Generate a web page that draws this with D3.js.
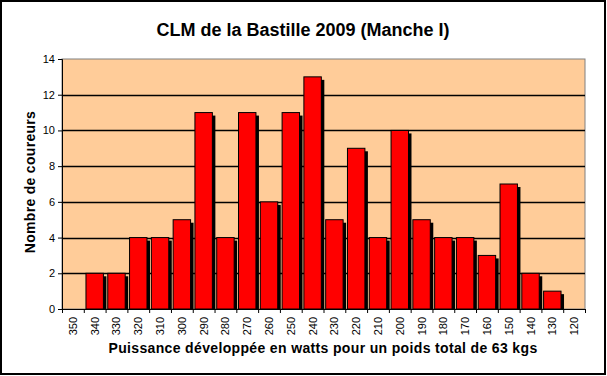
<!DOCTYPE html>
<html>
<head>
<meta charset="utf-8">
<script src="https://cdn.jsdelivr.net/npm/d3@7"></script>
<style>
body { margin:0; background:#fff; }
text { font-family: Arial, "Liberation Sans", sans-serif; }
</style>
</head>
<body>
<script>
var categories = ["350","340","330","320","310","300","290","280","270","260","250","240","230","220","210","200","190","180","170","160","150","140","130","120"];
var counts = [0,2,2,4,4,5,11,4,11,6,11,13,5,9,4,10,5,4,4,3,7,2,1,0];
var yTicks = [0,2,4,6,8,10,12,14];

var width = 607, height = 376;
var margin = {left:62, right:22, top:59, bottom:67};
var w = width - margin.left - margin.right;
var h = height - margin.top - margin.bottom;

var svg = d3.select("body").append("svg").attr("width",width).attr("height",height);

// outer frame
svg.append("rect").attr("x",1).attr("y",1).attr("width",width-3).attr("height",height-3)
   .attr("fill","#fff").attr("stroke","#000").attr("stroke-width",2);

svg.append("text").attr("x",303).attr("y",36).attr("text-anchor","middle")
   .attr("font-size","18px").attr("font-weight","bold").text("CLM de la Bastille 2009 (Manche I)");

var x = d3.scaleBand().domain(categories).range([0,w]).paddingInner(0.2).paddingOuter(0.1);
var xi = d3.scaleLinear().domain([0,categories.length]).range([0,w]);
var y = d3.scaleLinear().domain([0,14]).range([h,0]);

var g = svg.append("g").attr("transform","translate("+margin.left+","+margin.top+")");

g.append("rect").attr("width",w).attr("height",h).attr("fill","#FFCC99")
 .attr("stroke","#808080").attr("stroke-width",1);

g.selectAll(".grid").data(yTicks.slice(1,-1)).enter().append("line")
 .attr("x1",0).attr("x2",w).attr("y1",function(d){return Math.round(y(d))+0.5;})
 .attr("y2",function(d){return Math.round(y(d))+0.5;})
 .attr("stroke","#000").attr("stroke-width",1.3);

// shadows
g.selectAll(".shadow").data(counts).enter().append("rect")
 .attr("x",function(d,i){return x(categories[i])+3;})
 .attr("y",function(d){return y(d)+3;})
 .attr("width",x.bandwidth())
 .attr("height",function(d){return Math.max(0,h-y(d)-3);})
 .attr("fill","#000")
 .style("display",function(d){return d>0?null:"none";});

g.selectAll(".bar").data(counts).enter().append("rect")
 .attr("x",function(d,i){return x(categories[i]);})
 .attr("y",function(d){return y(d);})
 .attr("width",x.bandwidth())
 .attr("height",function(d){return h-y(d);})
 .attr("fill","#FF0000").attr("stroke","#000").attr("stroke-width",1)
 .style("display",function(d){return d>0?null:"none";});

// y axis
var yAxis = d3.axisLeft(y).tickValues(yTicks).tickSize(4).tickPadding(3);
var ya = g.append("g").call(yAxis);
ya.select(".domain").attr("stroke","#000");
ya.selectAll("text").attr("font-size","11px").attr("fill","#000").attr("font-family","Arial, 'Liberation Sans', sans-serif");

// x axis: ticks at boundaries, labels at centers
var xa = g.append("g").attr("transform","translate(0,"+h+")")
  .call(d3.axisBottom(xi).tickValues(d3.range(0,categories.length+1)).tickSize(4).tickFormat(""));
xa.select(".domain").attr("stroke","#000");

g.append("g").selectAll("text").data(categories).enter().append("text")
 .attr("transform",function(d){return "translate("+(x(d)+x.bandwidth()/2+4)+","+(h+8)+") rotate(-90)";})
 .attr("text-anchor","end").attr("font-size","11px").text(function(d){return d;});

svg.append("text").attr("x",323).attr("y",353).attr("text-anchor","middle")
 .attr("font-size","14px").attr("font-weight","bold").attr("letter-spacing","0.35px")
 .text("Puissance développée en watts pour un poids total de 63 kgs");

svg.append("text").attr("transform","translate(35,182) rotate(-90)")
 .attr("text-anchor","middle").attr("font-size","14px").attr("font-weight","bold")
 .attr("letter-spacing","0.3px")
 .text("Nombre de coureurs");
</script>
</body>
</html>
